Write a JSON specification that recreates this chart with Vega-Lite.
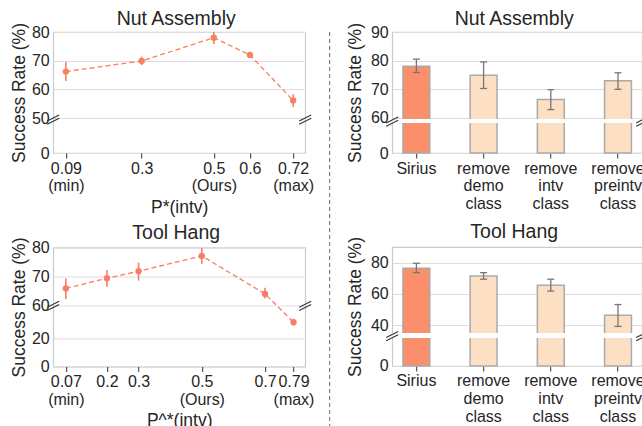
{
  "$schema": "https://vega.github.io/schema/vega-lite/v6.json",
  "padding": {"left": 9.2, "top": 8, "right": 5, "bottom": 5},
  "background": "white",
  "config": {
    "font": "Liberation Sans",
    "view": {"stroke": "#cccccc", "strokeWidth": 1.2},
    "title": {"fontSize": 19.5, "fontWeight": "normal", "color": "#262626", "font": "Liberation Sans", "baseline": "alphabetic", "offset": -7, "dx": -3},
    "axis": {"labelFont": "Liberation Sans", "labelFontSize": 16, "labelColor": "#262626", "titleFont": "Liberation Sans", "titleFontSize": 17.5, "titleFontWeight": "normal", "titleColor": "#262626", "domain": false, "tickColor": "#333333", "gridColor": "#dddddd", "gridWidth": 1, "labelLineHeight": 18, "labelOverlap": false, "tickCount": 20},
    "axisY": {"ticks": false, "labelPadding": 4, "titlePadding": 3, "grid": true, "labelOverlap": false, "tickCount": 20},
    "axisX": {"grid": false, "tickSize": 5, "labelPadding": 2, "labelOverlap": false, "labelFlush": false, "labelBound": false, "titlePadding": 4}
  },
  "datasets": {
    "nutLine": [
      {"p": 0.09, "rate": 66.2, "lo": 62.9, "hi": 69.5},
      {"p": 0.3, "rate": 69.9, "lo": 68.5, "hi": 71.4},
      {"p": 0.5, "rate": 78.0, "lo": 75.8, "hi": 80.0},
      {"p": 0.6, "rate": 72.0, "lo": 71.4, "hi": 72.6},
      {"p": 0.72, "rate": 56.1, "lo": 53.8, "hi": 58.3}
    ],
    "toolLine": [
      {"p": 0.07, "rate": 65.9, "lo": 62.2, "hi": 69.3},
      {"p": 0.2, "rate": 69.4, "lo": 66.5, "hi": 72.2},
      {"p": 0.3, "rate": 71.8, "lo": 68.6, "hi": 74.8},
      {"p": 0.5, "rate": 77.1, "lo": 74.4, "hi": 79.8},
      {"p": 0.7, "rate": 64.0, "lo": 62.4, "hi": 66.1},
      {"p": 0.79, "rate": 31.6, "lo": 29.3, "hi": 34.1}
    ],
    "nutBars": [
      {"method": "Sirius", "rate": 78.0, "lo": 75.8, "hi": 80.5},
      {"method": "remove demo class", "rate": 74.8, "lo": 70.2, "hi": 79.5},
      {"method": "remove intv class", "rate": 66.3, "lo": 62.8, "hi": 69.8},
      {"method": "remove preintv class", "rate": 72.9, "lo": 69.9, "hi": 75.7}
    ],
    "toolBars": [
      {"method": "Sirius", "rate": 76.4, "lo": 73.6, "hi": 79.6},
      {"method": "remove demo class", "rate": 71.5, "lo": 69.4, "hi": 73.6},
      {"method": "remove intv class", "rate": 65.6, "lo": 61.8, "hi": 69.4},
      {"method": "remove preintv class", "rate": 46.4, "lo": 39.2, "hi": 53.2}
    ],
    "sides": [{"side": "left"}, {"side": "right"}],
    "one": [{"k": 1}]
  },
  "spacing": 14,
  "hconcat": [
    {
      "spacing": 13.5,
      "hconcat": [
        {
          "spacing": 4.5,
          "vconcat": [
            {
              "width": 252, "height": 121,
              "title": {"text": "Nut Assembly"},
              "resolve": {"scale": {"x": "independent"}},
              "layer": [
                {
                  "data": {"name": "nutLine"},
                  "encoding": {
                    "x": {"field": "p", "type": "quantitative", "scale": {"domain": [0.0548, 0.7533], "nice": false, "zero": false},
                      "axis": {"title": "P*(intv)", "values": [0.09, 0.3, 0.5, 0.6, 0.72],
                        "labelExpr": "datum.value == 0.09 ? ['0.09','(min)'] : datum.value == 0.3 ? '0.3' : datum.value == 0.5 ? ['0.5','(Ours)'] : datum.value == 0.6 ? '0.6' : ['0.72','(max)']"}},
                    "y": {"field": "rate", "type": "quantitative", "scale": {"domain": [0, 50, 80], "range": [121, 86, 0], "nice": false, "zero": false},
                      "axis": {"title": "Success Rate (%)", "values": [0, 50, 60, 70, 80], "tickCount": 20}}
                  },
                  "layer": [
                    {"mark": {"type": "line", "strokeDash": [5, 3], "strokeWidth": 1.3, "color": "#f8805a"}},
                    {"mark": {"type": "rule", "strokeWidth": 1.6, "color": "#f8805a"},
                      "encoding": {"y": {"field": "lo", "type": "quantitative"}, "y2": {"field": "hi"}}},
                    {"mark": {"type": "point", "filled": true, "size": 40, "opacity": 1, "color": "#f8805a"}}
                  ]
                },
                {
                  "data": {"name": "sides"},
                  "mark": {"type": "point", "shape": "M-1,0.25L1,-0.75M-1,0.8L1,-0.2", "filled": false, "size": 144, "strokeWidth": 1.1, "color": "#333333", "opacity": 1},
                  "encoding": {
                    "x": {"field": "side", "type": "nominal", "scale": {"type": "point", "padding": 0}, "axis": null},
                    "y": {"datum": 48}
                  }
                }
              ]
            },
            {
              "width": 252, "height": 119,
              "title": {"text": "Tool Hang", "offset": -6.5},
              "resolve": {"scale": {"x": "independent"}},
              "layer": [
                {
                  "data": {"name": "toolLine"},
                  "encoding": {
                    "x": {"field": "p", "type": "quantitative", "scale": {"domain": [0.03, 0.827], "nice": false, "zero": false},
                      "axis": {"title": "P^*(intv)", "values": [0.07, 0.2, 0.3, 0.5, 0.7, 0.79],
                        "labelExpr": "datum.value == 0.07 ? ['0.07','(min)'] : datum.value == 0.2 ? '0.2' : datum.value == 0.3 ? '0.3' : datum.value == 0.5 ? ['0.5','(Ours)'] : datum.value == 0.7 ? '0.7' : ['0.79','(max)']"}},
                    "y": {"field": "rate", "type": "quantitative", "scale": {"domain": [0, 40, 60, 80], "range": [119, 63, 58, 0], "nice": false, "zero": false},
                      "axis": {"title": "Success Rate (%)", "values": [0, 20, 60, 70, 80], "tickCount": 20}}
                  },
                  "layer": [
                    {"mark": {"type": "line", "strokeDash": [5, 3], "strokeWidth": 1.3, "color": "#f87c6b"}},
                    {"data": {"name": "one"}, "mark": {"type": "rect", "color": "white", "opacity": 1},
                      "encoding": {"x": {"datum": 0.7}, "x2": {"datum": 0.79}, "y": {"datum": 40}, "y2": {"datum": 59.7}}},
                    {"mark": {"type": "rule", "strokeWidth": 1.6, "color": "#f87c6b"},
                      "encoding": {"y": {"field": "lo", "type": "quantitative"}, "y2": {"field": "hi"}}},
                    {"mark": {"type": "point", "filled": true, "size": 40, "opacity": 1, "color": "#f87c6b"}}
                  ]
                },
                {
                  "data": {"name": "sides"},
                  "mark": {"type": "point", "shape": "M-1,0.25L1,-0.75M-1,0.8L1,-0.2", "filled": false, "size": 144, "strokeWidth": 1.1, "color": "#333333", "opacity": 1},
                  "encoding": {
                    "x": {"field": "side", "type": "nominal", "scale": {"type": "point", "padding": 0}, "axis": null},
                    "y": {"datum": 59}
                  }
                }
              ]
            }
          ]
        },
        {
          "width": 1, "height": 410,
          "view": {"stroke": null},
          "data": {"name": "one"},
          "mark": {"type": "rule", "strokeDash": [4, 3], "strokeWidth": 1, "color": "#666666"},
          "encoding": {"x": {"field": "k", "type": "quantitative", "scale": {"domain": [1, 2]}, "axis": null}}
        }
      ]
    },
    {
      "spacing": 8,
      "vconcat": [
        {
          "width": 250, "height": 121,
          "title": {"text": "Nut Assembly"},
          "resolve": {"scale": {"x": "independent"}},
          "layer": [
            {
              "data": {"name": "nutBars"},
              "encoding": {
                "x": {"field": "method", "type": "nominal", "sort": null, "scale": {"paddingInner": 0.6, "paddingOuter": 0.16},
                  "axis": {"title": null, "labelAngle": 0, "labelExpr": "split(datum.label, ' ')"}},
                "y": {"field": "rate", "type": "quantitative", "scale": {"domain": [0, 10, 59.5, 90], "range": [121, 91, 87, 0], "nice": false, "zero": false},
                  "axis": {"title": "Success Rate (%)", "values": [0, 60, 70, 80, 90], "titlePadding": 6, "tickCount": 20}}
              },
              "layer": [
                {"mark": {"type": "bar", "stroke": "#aaaaaa", "strokeWidth": 1.5},
                  "encoding": {"color": {"field": "method", "type": "nominal", "sort": null, "scale": {"range": ["#fc8f6b", "#fddfc4", "#fddfc4", "#fddfc4"]}, "legend": null}}},
                {"mark": {"type": "rule", "strokeWidth": 1.3, "color": "#777777"},
                  "encoding": {"y": {"field": "lo", "type": "quantitative"}, "y2": {"field": "hi"}}},
                {"mark": {"type": "tick", "size": 7, "thickness": 1.3, "color": "#777777", "opacity": 1},
                  "encoding": {"y": {"field": "lo", "type": "quantitative"}}},
                {"mark": {"type": "tick", "size": 7, "thickness": 1.3, "color": "#777777", "opacity": 1},
                  "encoding": {"y": {"field": "hi", "type": "quantitative"}}}
              ]
            },
            {
              "data": {"name": "one"},
              "mark": {"type": "rect", "color": "white", "opacity": 1},
              "encoding": {"y": {"datum": 10}, "y2": {"datum": 59.5}}
            },
            {
              "data": {"name": "sides"},
              "mark": {"type": "point", "shape": "M-1,0.25L1,-0.75M-1,0.8L1,-0.2", "filled": false, "size": 144, "strokeWidth": 1.1, "color": "#333333", "opacity": 1},
              "encoding": {
                "x": {"field": "side", "type": "nominal", "scale": {"type": "point", "padding": 0}, "axis": null},
                "y": {"datum": 30}
              }
            }
          ]
        },
        {
          "width": 250, "height": 119,
          "title": {"text": "Tool Hang", "offset": -6.5},
          "resolve": {"scale": {"x": "independent"}},
          "layer": [
            {
              "data": {"name": "toolBars"},
              "encoding": {
                "x": {"field": "method", "type": "nominal", "sort": null, "scale": {"paddingInner": 0.6, "paddingOuter": 0.16},
                  "axis": {"title": null, "labelAngle": 0, "labelExpr": "split(datum.label, ' ')"}},
                "y": {"field": "rate", "type": "quantitative", "scale": {"domain": [0, 10, 35, 90], "range": [119, 91, 86, 0], "nice": false, "zero": false},
                  "axis": {"title": "Success Rate (%)", "values": [0, 40, 60, 80], "titlePadding": 6, "tickCount": 20}}
              },
              "layer": [
                {"mark": {"type": "bar", "stroke": "#aaaaaa", "strokeWidth": 1.5},
                  "encoding": {"color": {"field": "method", "type": "nominal", "sort": null, "scale": {"range": ["#fc8f6b", "#fddfc4", "#fddfc4", "#fddfc4"]}, "legend": null}}},
                {"mark": {"type": "rule", "strokeWidth": 1.3, "color": "#777777"},
                  "encoding": {"y": {"field": "lo", "type": "quantitative"}, "y2": {"field": "hi"}}},
                {"mark": {"type": "tick", "size": 7, "thickness": 1.3, "color": "#777777", "opacity": 1},
                  "encoding": {"y": {"field": "lo", "type": "quantitative"}}},
                {"mark": {"type": "tick", "size": 7, "thickness": 1.3, "color": "#777777", "opacity": 1},
                  "encoding": {"y": {"field": "hi", "type": "quantitative"}}}
              ]
            },
            {
              "data": {"name": "one"},
              "mark": {"type": "rect", "color": "white", "opacity": 1},
              "encoding": {"y": {"datum": 10}, "y2": {"datum": 35}}
            },
            {
              "data": {"name": "sides"},
              "mark": {"type": "point", "shape": "M-1,0.25L1,-0.75M-1,0.8L1,-0.2", "filled": false, "size": 144, "strokeWidth": 1.1, "color": "#333333", "opacity": 1},
              "encoding": {
                "x": {"field": "side", "type": "nominal", "scale": {"type": "point", "padding": 0}, "axis": null},
                "y": {"datum": 20}
              }
            }
          ]
        }
      ]
    }
  ]
}
